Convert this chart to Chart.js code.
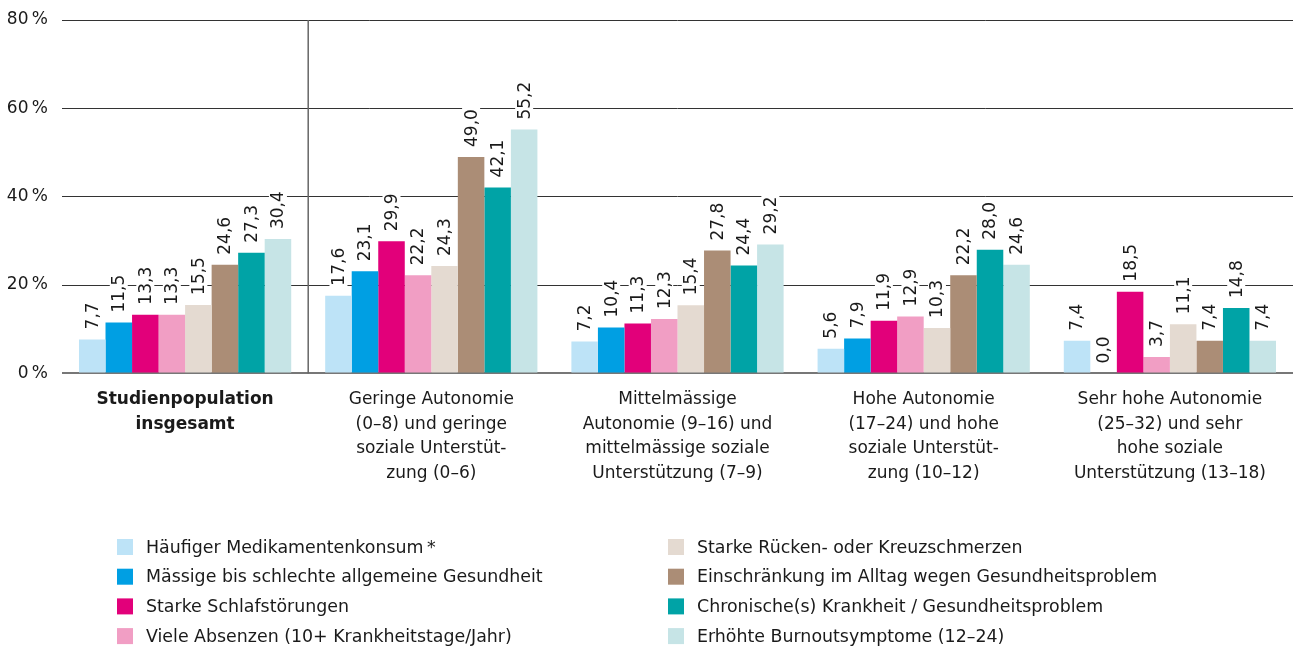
<!DOCTYPE html>
<html lang="de">
<head>
<meta charset="utf-8">
<title>Gesundheit nach Autonomie und sozialer Unterstützung</title>
<script src="https://cdn.jsdelivr.net/npm/chart.js@4/dist/chart.umd.min.js"></script>
<style>
  html, body { margin: 0; padding: 0; background: #fff; }
  #wrap { width: 1293px; height: 646px; position: relative; }
</style>
</head>
<body>
<div id="wrap"><canvas id="barChart"></canvas></div>
<script>
// groups along the x axis (multi-line labels)
const groups = [
    ['Studienpopulation', 'insgesamt'],
    ['Geringe Autonomie', '(0–8) und geringe', 'soziale Unterstüt-', 'zung (0–6)'],
    ['Mittelmässige', 'Autonomie (9–16) und', 'mittelmässige soziale', 'Unterstützung (7–9)'],
    ['Hohe Autonomie', '(17–24) und hohe', 'soziale Unterstüt-', 'zung (10–12)'],
    ['Sehr hohe Autonomie', '(25–32) und sehr', 'hohe soziale', 'Unterstützung (13–18)']
];

const seriesNames = [
    'Häufiger Medikamentenkonsum\u2009*',
    'Mässige bis schlechte allgemeine Gesundheit',
    'Starke Schlafstörungen',
    'Viele Absenzen (10+ Krankheitstage/Jahr)',
    'Starke Rücken- oder Kreuzschmerzen',
    'Einschränkung im Alltag wegen Gesundheitsproblem',
    'Chronische(s) Krankheit / Gesundheitsproblem',
    'Erhöhte Burnoutsymptome (12–24)'
];

// percent values per series, one entry per group
const medikamente   = [7.7, 17.6, 7.2, 5.6, 7.4];
const gesundheit    = [11.5, 23.1, 10.4, 7.9, 0.0];
const schlaf        = [13.3, 29.9, 11.3, 11.9, 18.5];
const absenzen      = [13.3, 22.2, 12.3, 12.9, 3.7];
const ruecken       = [15.5, 24.3, 15.4, 10.3, 11.1];
const einschraenkung = [24.6, 49.0, 27.8, 22.2, 7.4];
const chronisch     = [27.3, 42.1, 24.4, 28.0, 14.8];
const burnout       = [30.4, 55.2, 29.2, 24.6, 7.4];

const yTicks = [0, 20, 40, 60, 80];

const colors = ['#bde3f7', '#009fe3', '#e2007a', '#f19ec4', '#e4dad1', '#ab8d76', '#00a3a6', '#c6e4e6'];
const seriesValues = [medikamente, gesundheit, schlaf, absenzen, ruecken, einschraenkung, chronisch, burnout];

const FONT = '"DejaVu Sans", "Liberation Sans", Arial, sans-serif';
const TEXT = '#1a1a1a';

Chart.defaults.font.family = FONT;
Chart.defaults.color = TEXT;

const fmt = v => v.toFixed(1).replace('.', ',');

// rotated value labels above each bar, on a white box that cuts the grid lines
const valueLabels = {
    id: 'valueLabels',
    afterDatasetsDraw(chart) {
        const ctx = chart.ctx;
        ctx.save();
        ctx.font = '17px ' + FONT;
        ctx.textBaseline = 'middle';
        ctx.textAlign = 'left';
        chart.data.datasets.forEach((ds, di) => {
            chart.getDatasetMeta(di).data.forEach((bar, i) => {
                const txt = fmt(ds.data[i]);
                const w = ctx.measureText(txt).width;
                ctx.save();
                ctx.translate(bar.x, bar.y - 10);
                ctx.rotate(-Math.PI / 2);
                ctx.fillStyle = '#fff';
                ctx.fillRect(-3, -9, w + 6, 18);
                ctx.fillStyle = TEXT;
                ctx.fillText(txt, 0, 1);
                ctx.restore();
            });
        });
        ctx.restore();
    }
};

// vertical divider after the first group
const divider = {
    id: 'divider',
    beforeDatasetsDraw(chart) {
        const x = chart.scales.x;
        const area = chart.chartArea;
        const px = (x.getPixelForValue(0) + x.getPixelForValue(1)) / 2;
        const ctx = chart.ctx;
        ctx.save();
        ctx.strokeStyle = '#666';
        ctx.lineWidth = 1.5;
        ctx.beginPath();
        ctx.moveTo(px, area.top);
        ctx.lineTo(px, area.bottom);
        ctx.stroke();
        ctx.restore();
    }
};

// two-column legend under the chart
const sideLegend = {
    id: 'sideLegend',
    afterDraw(chart) {
        const ctx = chart.ctx;
        const cols = [117, 668];
        ctx.save();
        ctx.font = '17.4px ' + FONT;
        ctx.textBaseline = 'middle';
        ctx.textAlign = 'left';
        chart.data.datasets.forEach((ds, i) => {
            const cx = cols[Math.floor(i / 4)];
            const cy = 547 + (i % 4) * 29.7;
            ctx.fillStyle = ds.backgroundColor;
            ctx.fillRect(cx, cy - 8, 16, 16);
            ctx.fillStyle = TEXT;
            ctx.fillText(ds.label, cx + 29, cy + 1);
        });
        ctx.restore();
    }
};

new Chart(document.getElementById('barChart'), {
    type: 'bar',
    data: {
        labels: groups,
        datasets: seriesNames.map((name, i) => ({
            label: name,
            data: seriesValues[i],
            backgroundColor: colors[i],
            borderWidth: 0,
            categoryPercentage: 0.862,
            barPercentage: 1
        }))
    },
    options: {
        responsive: true,
        maintainAspectRatio: false,
        animation: false,
        layout: { padding: { top: 20, right: 0, bottom: 154, left: 0 } },
        plugins: {
            legend: { display: false },
            tooltip: { enabled: false }
        },
        scales: {
            x: {
                grid: { display: false },
                border: { display: false },
                ticks: {
                    maxRotation: 0,
                    autoSkip: false,
                    padding: 6,
                    color: TEXT,
                    font: ctx => ({ size: 17, lineHeight: 1.45, weight: ctx.index === 0 ? 'bold' : 'normal' })
                }
            },
            y: {
                min: 0,
                max: 80,
                afterFit(scale) {
                    scale.width = 62;
                    scale.paddingTop = 0;
                    scale.paddingBottom = 0;
                },
                afterBuildTicks(scale) { scale.ticks = yTicks.map(v => ({ value: v })); },
                border: { display: false },
                grid: {
                    drawTicks: false,
                    color: ctx => ctx.tick && ctx.tick.value === 0 ? '#777' : '#333',
                    lineWidth: ctx => ctx.tick && ctx.tick.value === 0 ? 2 : 1
                },
                ticks: {
                    padding: 14,
                    color: TEXT,
                    font: { size: 17 },
                    callback: v => v + '\u2009%'
                }
            }
        }
    },
    plugins: [divider, valueLabels, sideLegend]
});
</script>
</body>
</html>
